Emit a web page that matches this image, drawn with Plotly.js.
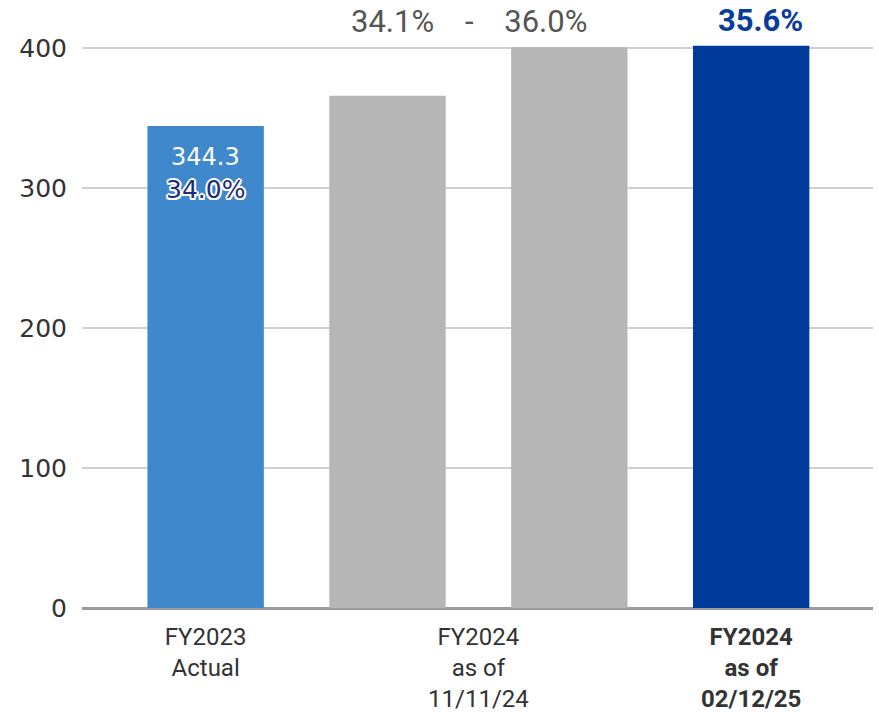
<!DOCTYPE html>
<html>
<head>
<meta charset="utf-8">
<script src="https://cdn.plot.ly/plotly-3.0.1.min.js"></script>
<style>html,body{margin:0;padding:0;background:#fff;}#chart{width:879px;height:712px;}</style>
</head>
<body>
<div id="chart"></div>
<script>
// ---- data ----
const barNames = ["FY2023 Actual", "FY2024 as of 11/11/24 (low)", "FY2024 as of 11/11/24 (high)", "FY2024 as of 02/12/25"];
const barValues = [344.3, 365.8, 400.5, 401.5];
const barGroups = [0, 1, 1, 2];
const groupLabels = ["FY2023<br>Actual", "FY2024<br>as of<br>11/11/24", "<b>FY2024<br>as of<br>02/12/25</b>"];
const rateLabels = ["34.0%", "34.1%\u00a0\u00a0\u00a0\u00a0-\u00a0\u00a0\u00a0\u00a036.0%", "35.6%"];
const yTicks = [0, 100, 200, 300, 400];

// ---- styles ----
const barColors = ["#3f88cc", "#b6b6b6", "#b6b6b6", "#003a9b"];

const xs = barNames.map((_, i) => i);
const groupCenters = groupLabels.map((_, g) => {
  const members = xs.filter(i => barGroups[i] === g);
  return members.reduce((a, b) => a + b, 0) / members.length;
});

const outline = "1.5px 1.5px 0 #fff, -1.5px -1.5px 0 #fff, 1.5px -1.5px 0 #fff, -1.5px 1.5px 0 #fff, 0 2px 0 #fff, 0 -2px 0 #fff, 2px 0 0 #fff, -2px 0 0 #fff";

const trace = {
  type: "bar",
  x: xs,
  y: barValues,
  width: 0.64,
  marker: { color: barColors, line: { width: 0 } },
  hoverinfo: "skip"
};

const annotations = [
  { x: xs[0], y: barValues[0], xref: "x", yref: "y", text: String(barValues[0]), showarrow: false,
    yshift: -31, font: { family: "DejaVu Sans", size: 24, color: "#ffffff" } },
  { x: xs[0], y: barValues[0], xref: "x", yref: "y", text: rateLabels[0], showarrow: false,
    yshift: -64, font: { family: "DejaVu Sans", size: 25, color: "#1b2f78", weight: 500, shadow: outline } },
  { x: groupCenters[1] - 0.05, y: 1.041, xref: "x", yref: "paper", text: rateLabels[1], showarrow: false,
    yanchor: "middle", font: { family: "Roboto", size: 31, color: "#555555" } },
  { x: groupCenters[2] + 0.05, y: 1.043, xref: "x", yref: "paper", text: "<b>" + rateLabels[2] + "</b>", showarrow: false,
    yanchor: "middle", font: { family: "Roboto", size: 31, color: "#0b3a9e" } }
];

const layout = {
  width: 879, height: 712,
  margin: { l: 82, r: 6, t: 45, b: 104 },
  paper_bgcolor: "#ffffff", plot_bgcolor: "#ffffff",
  showlegend: false,
  xaxis: {
    range: [-0.68, 3.67],
    tickmode: "array", tickvals: groupCenters, ticktext: groupLabels,
    showgrid: false, zeroline: false, showline: false, ticks: "",
    ticklabelstandoff: 12,
    tickfont: { family: "Roboto", size: 24, color: "#333333" },
    fixedrange: true
  },
  yaxis: {
    range: [0, 402.1],
    tickmode: "array", tickvals: yTicks,
    showgrid: true, gridcolor: "#d0d0d0", gridwidth: 1.5,
    zeroline: true, zerolinecolor: "#9a9a9a", zerolinewidth: 3,
    showline: false, ticks: "",
    ticklabelstandoff: 14,
    tickfont: { family: "DejaVu Sans", size: 25, color: "#333333" },
    fixedrange: true
  },
  annotations: annotations
};

Plotly.newPlot("chart", [trace], layout, { displayModeBar: false, staticPlot: true });
</script>
</body>
</html>
